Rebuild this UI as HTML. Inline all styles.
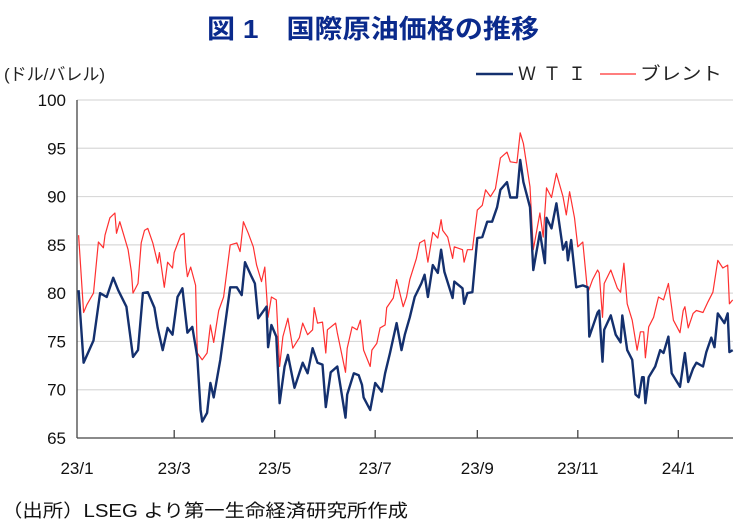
<!DOCTYPE html>
<html><head><meta charset="utf-8"><style>
body{margin:0;background:#fff;width:742px;height:524px;overflow:hidden;font-family:"Liberation Sans","Noto Sans CJK JP",sans-serif}
svg text{font-family:"Liberation Sans","Noto Sans CJK JP",sans-serif}
</style></head><body>
<svg id="chart" width="742" height="524" xmlns="http://www.w3.org/2000/svg">
<text x="373" y="38" text-anchor="middle" font-size="26" font-weight="bold" fill="#0a2a8c" textLength="332" lengthAdjust="spacingAndGlyphs">図 1　国際原油価格の推移</text>
<text x="4" y="80" font-size="17" fill="#222">(ドル/バレル)</text>
<g>
<line x1="476" y1="74" x2="513" y2="74" stroke="#14306e" stroke-width="2.5"/>
<text x="518" y="80" font-size="18" fill="#222" textLength="68" lengthAdjust="spacing">ＷＴＩ</text>
<line x1="600" y1="74" x2="636" y2="74" stroke="#ff3030" stroke-width="1.2"/>
<text x="640" y="80" font-size="18" fill="#222" textLength="82" lengthAdjust="spacingAndGlyphs">ブレント</text>
</g>
<g id="grid"></g><g id="axes"></g><g id="series"></g>
<text x="2" y="517" font-size="18" fill="#111" textLength="406" lengthAdjust="spacingAndGlyphs">（出所）LSEG より第一生命経済研究所作成</text>
</svg>
<script>
const yTicks=[65,70,75,80,85,90,95,100];
const xTickDays=[0,59,120,181,243,304,365];
const xTickLabels=["23/1","23/3","23/5","23/7","23/9","23/11","24/1"];
const wtiDays=[1,4,10,14,18,22,25,30,34,37,40,43,47,49,52,55,58,61,64,67,70,73,75,76,79,81,83,87,93,97,100,102,106,108,110,115,116,118,121,123,126,128,132,137,140,143,146,149,151,154,158,163,164,168,171,173,174,178,181,185,187,190,194,197,199,202,205,209,211,213,216,219,221,223,228,229,234,235,237,240,243,246,249,252,255,257,261,263,267,269,271,275,277,281,284,285,288,291,295,297,298,300,303,307,310,311,316,317,319,320,324,327,330,331,334,337,339,341,343,344,345,347,351,354,356,359,361,366,368,369,371,374,376,380,382,385,387,389,393,395,396,398];
const wtiValues=[80.3,72.8,75.1,80.0,79.6,81.6,80.3,78.6,73.4,74.1,80.0,80.1,78.5,76.4,74.1,76.4,75.7,79.6,80.5,75.9,76.5,73.4,67.9,66.7,67.6,70.7,69.2,73.1,80.6,80.6,79.8,83.2,81.7,81.0,77.4,78.6,74.4,76.7,75.5,68.6,72.4,73.6,70.2,72.8,71.7,74.3,72.8,72.6,68.2,71.8,72.4,67.1,69.5,71.7,71.5,70.5,69.2,67.9,70.7,69.8,71.7,73.8,76.9,74.1,75.7,77.5,79.6,81.0,81.9,79.6,82.9,82.1,84.5,82.2,79.5,81.2,80.5,78.9,80.0,80.1,85.7,85.8,87.4,87.4,88.9,90.7,91.5,89.9,89.9,93.8,91.5,88.9,82.4,86.3,83.1,87.8,86.7,89.3,84.5,85.3,83.4,85.5,80.6,80.8,80.6,75.5,78.0,78.2,72.9,76.2,77.7,75.7,74.9,77.7,74.1,73.1,69.5,69.2,71.3,71.3,68.6,71.3,72.4,74.1,73.8,75.5,71.7,70.3,72.6,73.8,70.8,72.2,72.8,72.4,73.9,75.4,74.4,77.9,76.9,77.9,73.9,74.1];
const brentDays=[1,4,6,10,13,16,17,20,23,24,26,31,33,34,37,39,41,43,46,49,50,53,55,58,59,63,65,66,67,69,72,73,76,79,81,83,86,89,93,97,99,101,104,107,109,112,114,116,118,121,123,125,128,131,135,137,140,143,144,146,149,151,152,157,158,163,164,167,170,172,174,178,179,182,184,187,188,192,194,198,200,202,206,208,211,213,216,219,221,222,225,228,229,234,235,237,240,243,246,248,251,254,257,261,263,267,269,271,275,277,281,283,285,288,291,295,297,299,302,304,307,310,313,316,317,319,320,324,328,330,332,334,337,340,342,344,345,347,350,353,356,359,362,366,368,369,371,374,376,380,383,386,389,392,395,396,398];
const brentValues=[86.0,78.0,78.8,80.0,85.3,84.7,86.0,87.8,88.3,86.2,87.4,84.5,82.2,80.0,81.0,85.2,86.5,86.7,85.2,83.1,84.2,80.6,83.2,82.6,84.2,86.0,86.2,83.2,81.7,82.7,80.8,73.8,73.1,73.8,76.7,74.9,78.2,79.6,85.0,85.2,84.3,87.4,86.2,84.8,82.9,81.2,82.7,77.5,79.6,79.3,72.4,75.5,77.4,74.3,75.4,76.9,75.7,76.2,78.5,76.9,77.0,73.8,76.2,76.9,75.9,71.8,74.3,76.5,76.2,77.2,74.1,72.4,74.1,74.8,76.4,76.7,78.5,79.5,81.4,78.6,79.6,81.4,83.6,85.2,85.5,83.2,86.3,85.7,87.6,86.5,85.8,83.6,84.8,84.5,83.2,84.5,84.5,88.6,89.1,90.7,90.0,90.8,94.0,94.6,93.6,93.5,96.6,95.5,91.0,84.5,88.3,85.8,90.9,89.9,92.4,90.0,88.1,90.5,87.8,84.8,85.3,80.0,81.4,82.4,82.1,77.5,81.0,82.4,80.5,80.1,83.1,78.9,77.2,74.1,76.0,76.0,73.3,76.5,77.5,79.6,79.3,81.0,77.2,75.9,78.2,78.6,76.4,77.9,78.2,78.0,79.1,80.1,83.4,82.6,82.9,78.9,79.3];

const X0=77,X1=733,Y0=438,Y1=100,DAYMAX=398;
function xScale(d){return X0+d*(X1-X0)/(DAYMAX+0.2);}
function yScale(v){return Y0-(v-65)*(Y0-Y1)/35;}
const NS="http://www.w3.org/2000/svg";
function mk(tag,attrs,parent){const e=document.createElementNS(NS,tag);for(const k in attrs)e.setAttribute(k,attrs[k]);parent.appendChild(e);return e;}
const grid=document.getElementById('grid'),axes=document.getElementById('axes'),series=document.getElementById('series');
yTicks.forEach(v=>{
  if(v>65){const g=mk('line',{x1:X0,x2:X1,y1:yScale(v),y2:yScale(v),stroke:'#d9d9d9','stroke-width':1.2},grid);
  
  }
  const t=mk('text',{x:66,y:yScale(v)+6,'text-anchor':'end','font-size':17,fill:'#111'},axes);
  t.textContent=v;
  
  
});
const ya=mk('line',{x1:X0,x2:X0,y1:Y1,y2:Y0,stroke:'#444','stroke-width':1.3},axes);


const xa=mk('line',{x1:X0,x2:X1,y1:Y0,y2:Y0,stroke:'#444','stroke-width':1.3},axes);


xTickDays.forEach((d,i)=>{
  const x=xScale(d);
  if(i>0){const tk=mk('line',{x1:x,x2:x,y1:Y0,y2:Y0-8,stroke:'#444','stroke-width':1.3},axes);
  
  }
  const t=mk('text',{x:x,y:474,'text-anchor':'middle','font-size':17,fill:'#111'},axes);
  t.textContent=xTickLabels[i];
  
  
});
function path(days,vals){return days.map((d,i)=>(i?'L':'M')+xScale(d).toFixed(1)+','+yScale(vals[i]).toFixed(1)).join('');}
const b=mk('path',{d:path(brentDays,brentValues),fill:'none',stroke:'#ff3030','stroke-width':1.2,'stroke-linejoin':'round'},series);


const w=mk('path',{d:path(wtiDays,wtiValues),fill:'none',stroke:'#14306e','stroke-width':2.4,'stroke-linejoin':'round'},series);


</script>
</body></html>
